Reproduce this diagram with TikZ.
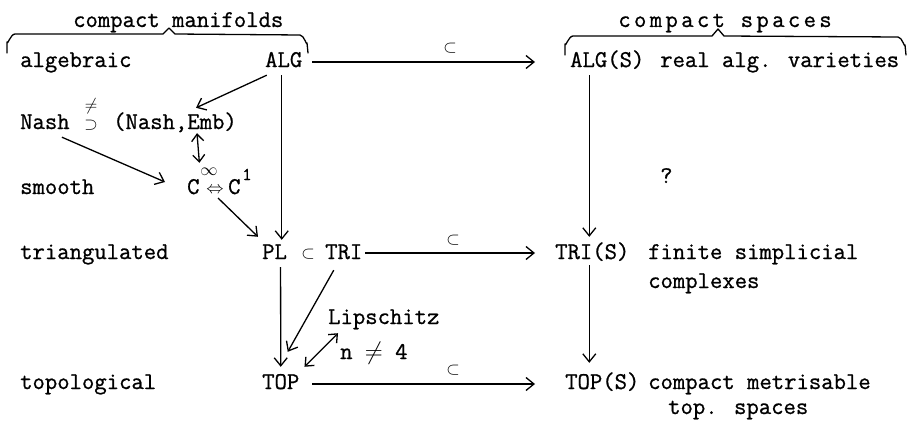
\documentclass[tikz,border=0pt]{standalone}
\usepackage{fontspec}
\newfontfamily\twfont[FakeBold=0.9]{Latin Modern Mono}
\usetikzlibrary{arrows.meta}
\begin{document}
\begin{tikzpicture}[x=1pt,y=-1pt,
  t/.style={font=\twfont\fontsize{24}{26}\selectfont, inner sep=0pt, text height=12pt, text depth=0pt, anchor=base west},
  sym/.style={inner sep=0pt, font=\fontsize{16}{16}\selectfont},
  arr/.style={-{Straight Barb[length=8pt,width=13pt]}, line width=1.3pt},
  darr/.style={{Straight Barb[length=7pt,width=12pt]}-{Straight Barb[length=7pt,width=12pt]}, line width=1.3pt},
  brace/.style={line width=1.3pt, line join=round, line cap=round}]
\useasboundingbox (0,0) rectangle (909,420);
% braces
\draw[brace] (7,53) -- (7,42) to[out=-90,in=180] (15,34) -- (163,34) -- (169,28) -- (175,34) -- (300,35) to[out=0,in=-90] (307,43) -- (308,53);
\draw[brace] (565,55) -- (565,44) to[out=-90,in=180] (573,36) -- (712,36) -- (718,29) -- (724,36) -- (898,37) to[out=0,in=-90] (905,45) -- (906,55);
% texts
\node[t] (cm) at (73,27) {compact manifolds};
\node[t, anchor=base, font=\twfont\fontsize{24}{26}\selectfont\addfontfeature{LetterSpace=14}] (cs) at (725,27) {compact spaces};
\node[t] (alg) at (20,67) {algebraic};
\node[t] (ALG) at (265,67) {ALG};
\node[t] (ALGS) at (570,67) {ALG(S)};
\node[t] (rav) at (660,67) {real alg. varieties};
\node[t] (Nash) at (20,129) {Nash};
\node[sym, font=\fontsize{17}{18}\selectfont] (nsup) at (91,125) {$\supset$};
\node[sym] (nneq) at (91,106) {$\neq$};
\node[t] (NashEmb) at (113,129) {(Nash,Emb)};
\node[t] (smooth) at (20,194) {smooth};
\node[t] (Cinf) at (187,194) {C};
\node[sym] (inf) at (209,172) {$\infty$};
\node[sym, font=\fontsize{17}{17}\selectfont] (eqv) at (215,190) {$\Leftrightarrow$};
\node[t] (Cone) at (228,194) {C};
\node[t, anchor=base, font=\twfont\fontsize{18}{20}\selectfont] (one) at (247,180) {1};
\node[t] (q) at (660,183) {?};
\node[t] (tri) at (20,259) {triangulated};
\node[t] (PL) at (262,259) {PL};
\node[sym] (plsub) at (308,254) {$\subset$};
\node[t] (TRI) at (325,259) {TRI};
\node[t] (TRIS) at (555,259) {TRI(S)};
\node[t] (fs) at (648,259) {finite simplicial};
\node[t] (cx) at (648,288) {complexes};
\node[t] (Lip) at (328,324) {Lipschitz};
\node[t] (n4) at (340,359) {n $\neq$ 4};
\node[t] (topo) at (20,389) {topological};
\node[t] (TOP) at (262,389) {TOP};
\node[t] (TOPS) at (565,389) {TOP(S)};
\node[t] (cmet) at (648,389) {compact metrisable};
\node[t] (tsp) at (668,414) {top. spaces};
\node[sym] (s1) at (450,48) {$\subset$};
\node[sym] (s2) at (453,240) {$\subset$};
\node[sym] (s3) at (453,370) {$\subset$};
% connectors
\draw[arr] ([shift={(10,1)}]ALG.east) -- ([shift={(-35,1)}]ALGS.west);
\draw[arr] ([shift={(-17,8)}]ALG.south) -- ([shift={(21,-9)}]NashEmb.north);
\draw[darr] ([shift={(22,4)}]NashEmb.south) -- ([shift={(6,-19)}]Cinf.north);
\draw[arr] ([shift={(17,8)}]Nash.south) -- ([shift={(-22,-6)}]Cinf.west);
\draw[arr] ([shift={(3,8)}]eqv.center) -- ([shift={(-4,-10)}]PL.north west);
\draw[arr] ([shift={(-2,8)}]ALG.south) -- ([shift={(-2,-7)}]ALG.south |- PL.north);
\draw[arr] ([shift={(3,0)}]TRI.east) -- ([shift={(-20,0)}]TRIS.west);
\draw[arr] ([shift={(-18,8)}]ALGS.south) -- ([shift={(-18,-10)}]ALGS.south |- TRIS.north);
\draw[arr] ([shift={(-3,6)}]TRIS.south) -- ([shift={(-3,-14)}]TRIS.south |- TOPS.north);
\draw[arr] ([shift={(6,8)}]PL.south) -- ([shift={(0,-10)}]TOP.north);
\draw[arr] ([shift={(-10,11)}]TRI.south) -- ([shift={(7,-25)}]TOP.north);
\draw[darr] ([shift={(5,-10)}]TOP.north east) -- ([shift={(10,9)}]Lip.south west);
\draw[arr] ([shift={(13,1)}]TOP.east) -- ([shift={(-30,1)}]TOPS.west);
\end{tikzpicture}
\end{document}
